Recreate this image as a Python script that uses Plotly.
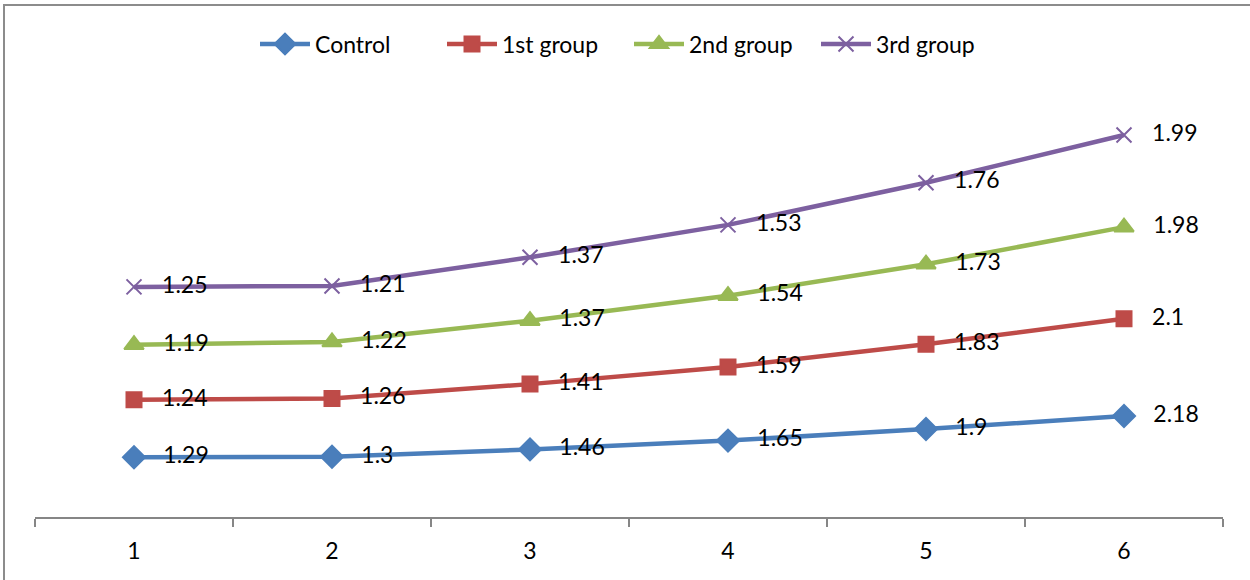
import plotly.graph_objects as go

categories = [1, 2, 3, 4, 5, 6]
control = [1.29, 1.3, 1.46, 1.65, 1.9, 2.18]
group1 = [1.24, 1.26, 1.41, 1.59, 1.83, 2.1]
group2 = [1.19, 1.22, 1.37, 1.54, 1.73, 1.98]
group3 = [1.25, 1.21, 1.37, 1.53, 1.76, 1.99]

series = [
    ("Control", control, "#4A7EBB", "diamond", 17),
    ("1st group", group1, "#BE4B48", "square", 15),
    ("2nd group", group2, "#98B954", "triangle-up", 17),
    ("3rd group", group3, "#7D60A0", "x-thin-open", 15),
]

FONT = "Lato, 'Open Sans', sans-serif"
PAD = "\u00a0\u00a0\u00a0"

fig = go.Figure()
for name, vals, color, sym, size in series:
    fig.add_trace(go.Scatter(
        x=categories, y=vals, name=name, stackgroup="one", fill="none",
        mode="lines+markers+text",
        line=dict(color=color, width=4.5),
        marker=dict(symbol=sym, size=size, color=color,
                    line=dict(color=color, width=2)),
        text=[PAD + f"{v:g}" for v in vals], textposition="middle right",
        textfont=dict(family=FONT, size=23, color="black"),
    ))

L, R, T, B = 35, 27, 54, 63
W, H = 1250, 580
pw, ph = W - L - R, H - T - B

fig.update_layout(
    width=W, height=H,
    margin=dict(l=L, r=R, t=T, b=B),
    plot_bgcolor="white", paper_bgcolor="white",
    font=dict(family=FONT, size=22, color="black"),
    showlegend=True,
    legend=dict(orientation="h", x=0.5, xanchor="center",
                y=(H - B - 44) / ph, yanchor="middle",
                font=dict(family=FONT, size=23), itemwidth=50,
                entrywidth=122),
    xaxis=dict(range=[0.5, 6.5], tickmode="array", tickvals=categories,
               ticktext=[str(c) for c in categories], ticks="",
               showgrid=False, zeroline=False, showline=True,
               linecolor="#868686", linewidth=2, ticklabelstandoff=12,
               minor=dict(ticks="outside", tick0=0.5, dtick=1, ticklen=8,
                          tickcolor="#868686", tickwidth=2, showgrid=False),
               tickfont=dict(family=FONT, size=23)),
    yaxis=dict(range=[0, 10], visible=False, showgrid=False),
    shapes=[dict(type="rect", xref="paper", yref="paper",
                 x0=(4 - L) / pw, x1=(W + 10 - L) / pw,
                 y0=-(B + 10) / ph, y1=(H - B - 5) / ph,
                 line=dict(color="#8C8C8C", width=2), layer="below")],
)

fig.write_html("out.html", config={"displayModeBar": False},
               post_script="document.body.style.margin='0';")
